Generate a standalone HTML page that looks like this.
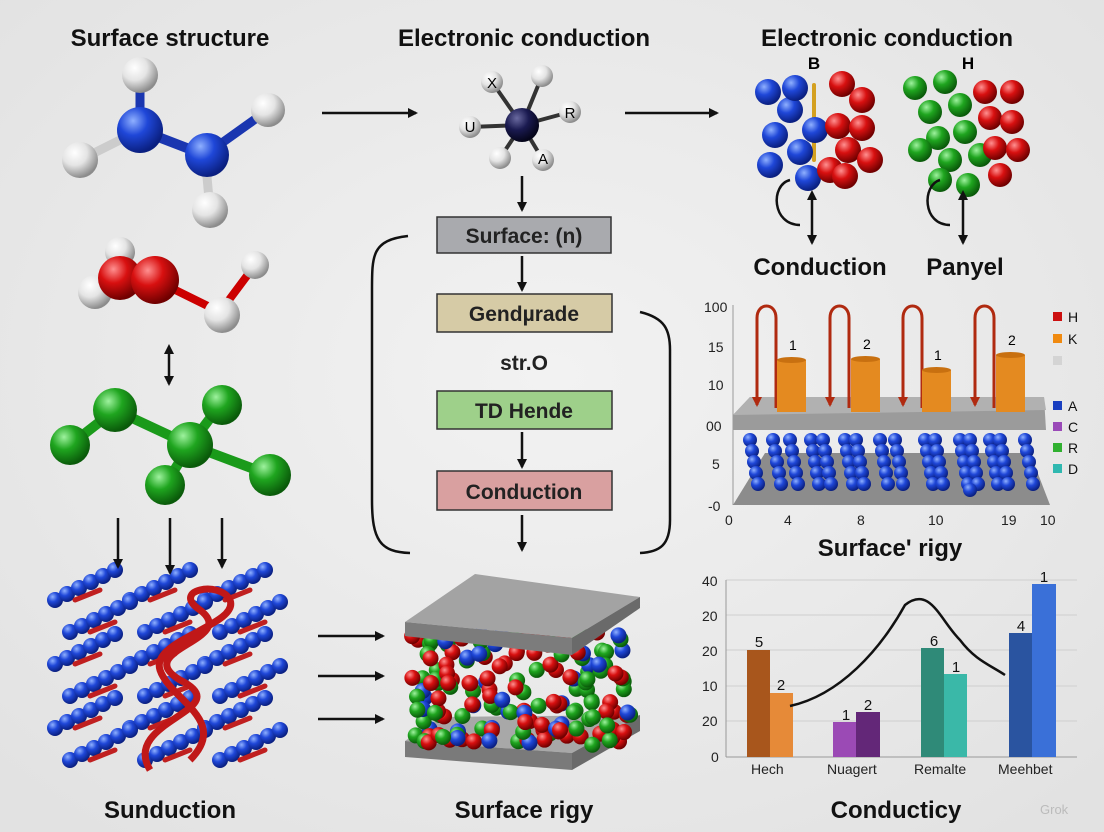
<!DOCTYPE html>
<html><head><meta charset="utf-8">
<style>
html,body{margin:0;padding:0;background:#ebebeb;}
svg{display:block;font-family:"Liberation Sans",sans-serif;}
.t{font-weight:bold;font-size:24px;text-anchor:middle;fill:#111}
.bx{font-size:21px;text-anchor:middle;fill:#222;font-weight:bold}
.ax{font-size:14px;fill:#222}
</style></head><body>
<svg id="s" width="1104" height="832" viewBox="0 0 1104 832" xmlns="http://www.w3.org/2000/svg">
<defs>
<radialGradient id="gb" cx="35%" cy="30%" r="70%"><stop offset="0" stop-color="#8fb0ff"/><stop offset=".45" stop-color="#1f47d8"/><stop offset="1" stop-color="#0a1f80"/></radialGradient>
<radialGradient id="gr" cx="35%" cy="30%" r="70%"><stop offset="0" stop-color="#ff9090"/><stop offset=".45" stop-color="#d81010"/><stop offset="1" stop-color="#700000"/></radialGradient>
<radialGradient id="gg" cx="35%" cy="30%" r="70%"><stop offset="0" stop-color="#9ef29e"/><stop offset=".45" stop-color="#1fa51f"/><stop offset="1" stop-color="#0a5a0a"/></radialGradient>
<radialGradient id="gw" cx="35%" cy="30%" r="70%"><stop offset="0" stop-color="#ffffff"/><stop offset=".5" stop-color="#e4e4e4"/><stop offset="1" stop-color="#8c8c8c"/></radialGradient>
<radialGradient id="gn" cx="35%" cy="30%" r="70%"><stop offset="0" stop-color="#6a6aa0"/><stop offset=".5" stop-color="#1a1a50"/><stop offset="1" stop-color="#05051a"/></radialGradient>
<radialGradient id="bg" cx="50%" cy="45%" r="70%"><stop offset="0" stop-color="#f2f2f2"/><stop offset="1" stop-color="#e2e2e2"/></radialGradient>
<marker id="ah" markerWidth="10" markerHeight="10" refX="8" refY="5" orient="auto" markerUnits="userSpaceOnUse"><path d="M0,0 L10,5 L0,10 z" fill="#111"/></marker>
<marker id="ahs" markerWidth="10" markerHeight="10" refX="2" refY="5" orient="auto-start-reverse" markerUnits="userSpaceOnUse"><path d="M0,0 L10,5 L0,10 z" fill="#111"/></marker>
<marker id="ahr" markerWidth="10" markerHeight="10" refX="8" refY="5" orient="auto" markerUnits="userSpaceOnUse"><path d="M0,0 L10,5 L0,10 z" fill="#b02a10"/></marker>
</defs>
<rect width="1104" height="832" fill="url(#bg)"/>
<g id="bonds" stroke-linecap="round"></g>
<g id="atoms"></g>

<text class="t" x="170" y="46">Surface structure</text>
<text class="t" x="524" y="46">Electronic conduction</text>
<text class="t" x="887" y="46">Electronic conduction</text>

<g stroke="#111" stroke-width="2.5" fill="none">
<line x1="322" y1="113" x2="416" y2="113" marker-end="url(#ah)"/>
<line x1="625" y1="113" x2="717" y2="113" marker-end="url(#ah)"/>
<line x1="522" y1="176" x2="522" y2="210" marker-end="url(#ah)"/>
<line x1="522" y1="256" x2="522" y2="290" marker-end="url(#ah)"/>
<line x1="522" y1="432" x2="522" y2="467" marker-end="url(#ah)"/>
<line x1="522" y1="515" x2="522" y2="550" marker-end="url(#ah)"/>
<line x1="169" y1="352" x2="169" y2="384" marker-end="url(#ah)" marker-start="url(#ahs)"/>
<line x1="118" y1="518" x2="118" y2="567" marker-end="url(#ah)"/>
<line x1="170" y1="518" x2="170" y2="573" marker-end="url(#ah)"/>
<line x1="222" y1="518" x2="222" y2="567" marker-end="url(#ah)"/>
<line x1="318" y1="636" x2="383" y2="636" marker-end="url(#ah)"/>
<line x1="318" y1="676" x2="383" y2="676" marker-end="url(#ah)"/>
<line x1="318" y1="719" x2="383" y2="719" marker-end="url(#ah)"/>
<line x1="812" y1="198" x2="812" y2="243" marker-end="url(#ah)" marker-start="url(#ahs)"/>
<line x1="963" y1="198" x2="963" y2="243" marker-end="url(#ah)" marker-start="url(#ahs)"/>
<path d="M790,180 C770,185 772,225 800,225"/>
<path d="M940,180 C922,185 922,225 950,225"/>
<path d="M408,236 C372,240 372,255 372,290 L372,500 C372,540 380,552 410,553"/>
<path d="M640,312 C665,318 670,330 670,350 L670,520 C670,545 660,552 640,553"/>
</g>

<rect x="437" y="217" width="174" height="36" fill="#a9aaae" stroke="#333" stroke-width="1.5"/>
<text class="bx" x="524" y="243" font-weight="normal">Surface: (n)</text>
<rect x="437" y="294" width="175" height="38" fill="#d6cba6" stroke="#333" stroke-width="1.5"/>
<text class="bx" x="524" y="321">Gendµrade</text>
<text class="bx" x="524" y="370">str.O</text>
<rect x="437" y="391" width="175" height="38" fill="#9ed08a" stroke="#333" stroke-width="1.5"/>
<text class="bx" x="524" y="418">TD Hende</text>
<rect x="437" y="471" width="175" height="39" fill="#d9a0a0" stroke="#333" stroke-width="1.5"/>
<text class="bx" x="524" y="499" font-weight="normal">Conduction</text>

<text class="t" x="820" y="275">Conduction</text>
<text class="t" x="965" y="275">Panyel</text>
<text x="814" y="69" font-size="17" font-weight="bold" text-anchor="middle">B</text>
<text x="968" y="69" font-size="17" font-weight="bold" text-anchor="middle">H</text>

<!-- chart 1 -->
<g class="ax">
<line x1="733" y1="305" x2="733" y2="505" stroke="#999"/>
<text x="704" y="312">100</text><text x="708" y="352">15</text><text x="708" y="390">10</text><text x="706" y="431">00</text><text x="712" y="469">5</text><text x="708" y="511">-0</text>
<text x="725" y="525">0</text><text x="784" y="525">4</text><text x="857" y="525">8</text><text x="928" y="525">10</text><text x="1001" y="525">19</text><text x="1040" y="525">10</text>
</g>
<polygon points="765,453 1030,453 1050,505 733,505" fill="#8c8c8c"/>
<polygon points="750,397 1044,397 1046,430 733,430 733,415" fill="#9b9b9b"/>
<polygon points="750,397 1044,397 1046,410 733,415" fill="#b1b1b1"/>
<g id="c1"></g>
<g font-size="14" fill="#111">
<rect x="1053" y="312" width="9" height="9" fill="#cc1010"/><text x="1068" y="322">H</text>
<rect x="1053" y="334" width="9" height="9" fill="#f08a10"/><text x="1068" y="344">K</text>
<rect x="1053" y="356" width="9" height="9" fill="#d4d4d4"/>
<rect x="1053" y="401" width="9" height="9" fill="#1a3fc0"/><text x="1068" y="411">A</text>
<rect x="1053" y="422" width="9" height="9" fill="#9a4ab8"/><text x="1068" y="432">C</text>
<rect x="1053" y="443" width="9" height="9" fill="#30b030"/><text x="1068" y="453">R</text>
<rect x="1053" y="464" width="9" height="9" fill="#30b8b0"/><text x="1068" y="474">D</text>
</g>
<text class="t" x="890" y="556">Surface' rigy</text>

<!-- chart 2 -->
<g stroke="#cfcfcf" stroke-width="1">
<line x1="726" y1="580" x2="1077" y2="580"/><line x1="726" y1="615" x2="1077" y2="615"/><line x1="726" y1="650" x2="1077" y2="650"/><line x1="726" y1="686" x2="1077" y2="686"/><line x1="726" y1="721" x2="1077" y2="721"/>
<line x1="726" y1="757" x2="1077" y2="757" stroke="#999"/>
<line x1="726" y1="580" x2="726" y2="757" stroke="#999"/>
</g>
<g class="ax" font-size="15">
<text x="702" y="586">40</text><text x="702" y="621">20</text><text x="702" y="656">20</text><text x="702" y="691">10</text><text x="702" y="726">20</text><text x="711" y="762">0</text>
<text x="751" y="774">Hech</text><text x="827" y="774">Nuagert</text><text x="914" y="774">Remalte</text><text x="998" y="774">Meehbet</text>
</g>
<rect x="747" y="650" width="23" height="107" fill="#a8561c"/>
<rect x="770" y="693" width="23" height="64" fill="#e68a38"/>
<rect x="833" y="722" width="23" height="35" fill="#9b4ab5"/>
<rect x="856" y="712" width="24" height="45" fill="#632778"/>
<rect x="921" y="648" width="23" height="109" fill="#2f8a78"/>
<rect x="944" y="674" width="23" height="83" fill="#3ab8a8"/>
<rect x="1009" y="633" width="23" height="124" fill="#2a54a0"/>
<rect x="1032" y="584" width="24" height="173" fill="#3a70d8"/>
<g font-size="15" fill="#111" text-anchor="middle">
<text x="759" y="647">5</text><text x="781" y="690">2</text><text x="846" y="720">1</text><text x="868" y="710">2</text><text x="934" y="646">6</text><text x="956" y="672">1</text><text x="1021" y="631">4</text><text x="1044" y="582">1</text>
</g>
<path d="M790,706 C840,695 880,650 905,605 C930,585 940,620 960,640 C975,660 990,665 1005,675" stroke="#111" stroke-width="2.5" fill="none"/>
<text class="t" x="896" y="818">Conducticy</text>

<!-- center bottom slabs -->
<polygon points="440,717 640,715 572,753 405,741" fill="#a8a8a8"/>
<polygon points="405,741 572,753 572,770 405,757" fill="#7a7a7a"/>
<polygon points="572,753 640,715 640,731 572,770" fill="#6a6a6a"/>
<g id="part"></g>
<polygon points="475,574 640,597 572,638 405,622" fill="#a3a3a3"/>
<polygon points="405,622 572,638 572,655 405,636" fill="#7c7c7c"/>
<polygon points="572,638 640,597 640,608 572,655" fill="#6a6a6a"/>

<text class="t" x="170" y="818">Sunduction</text>
<text class="t" x="524" y="818">Surface rigy</text>
<text x="1040" y="814" font-size="13" fill="#bbb">Grok</text>
</svg>
<script>
var NS="http://www.w3.org/2000/svg";
var atoms=document.getElementById('atoms'),bonds=document.getElementById('bonds');
function sp(x,y,r,c,par){var e=document.createElementNS(NS,'circle');e.setAttribute('cx',x);e.setAttribute('cy',y);e.setAttribute('r',r);e.setAttribute('fill','url(#g'+c+')');(par||atoms).appendChild(e);}
function bd(a,b,c,d,col,w,par){var e=document.createElementNS(NS,'line');e.setAttribute('x1',a);e.setAttribute('y1',b);e.setAttribute('x2',c);e.setAttribute('y2',d);e.setAttribute('stroke',col);e.setAttribute('stroke-width',w);e.setAttribute('stroke-linecap','round');(par||bonds).appendChild(e);}
function tx(x,y,s,sz){var e=document.createElementNS(NS,'text');e.setAttribute('x',x);e.setAttribute('y',y);e.setAttribute('font-size',sz||15);e.setAttribute('text-anchor','middle');e.textContent=s;atoms.appendChild(e);}
[[140,75],[80,160],[268,110],[210,210]].forEach(function(p,i){var b=i<2?[140,130]:[205,155];bd(b[0],b[1],p[0],p[1],i%2?'#ccc':'#1a36b0',9);});
bd(140,130,205,155,'#1a36b0',10);
sp(140,130,23,'b');sp(207,155,22,'b');sp(140,75,18,'w');sp(80,160,18,'w');sp(268,110,17,'w');sp(210,210,18,'w');
[[492,82],[542,76],[470,127],[570,112],[500,158],[543,160]].forEach(function(p){bd(522,125,p[0],p[1],'#333',4);sp(p[0],p[1],11,'w');});
sp(522,125,17,'n');tx(492,88,'X');tx(570,118,'R');tx(470,132,'U');tx(543,164,'A');
bd(120,275,95,292,'#ccc',8);bd(155,280,220,312,'#c00',8);bd(220,312,255,265,'#c00',8);bd(120,275,120,252,'#ccc',8);
sp(95,292,17,'w');sp(120,252,15,'w');sp(120,278,22,'r');sp(155,280,24,'r');sp(222,315,18,'w');sp(255,265,14,'w');
bd(115,410,190,445,'#1a9a1a',10);bd(70,445,115,410,'#1a9a1a',10);bd(190,445,220,405,'#1a9a1a',10);bd(190,445,270,475,'#1a9a1a',10);bd(190,445,165,485,'#1a9a1a',10);
sp(115,410,22,'g');sp(70,445,20,'g');sp(190,445,23,'g');sp(222,405,20,'g');sp(270,475,21,'g');sp(165,485,20,'g');
var bl=[[768,92],[790,110],[775,135],[800,152],[770,165],[808,178],[795,88],[815,130]];
bl.forEach(function(p){sp(p[0],p[1],13,'b');});
[[842,84],[862,100],[838,126],[862,128],[848,150],[830,170],[870,160],[845,176]].forEach(function(p){sp(p[0],p[1],13,'r');});
bd(814,85,814,160,'#d4a020',4);
[[915,88],[945,82],[930,112],[960,105],[938,138],[965,132],[920,150],[950,160],[980,155],[940,180],[968,185]].forEach(function(p){sp(p[0],p[1],12,'g');});
[[985,92],[1012,92],[990,118],[1012,122],[995,148],[1018,150],[1000,175]].forEach(function(p){sp(p[0],p[1],12,'r');});
var cg=document.createElementNS(NS,'g');atoms.appendChild(cg);
for(var r=0;r<6;r++){for(var k=0;k<3;k++){var x0=55+k*75+(r%2)*15,y0=600+r*32;
 for(var j=0;j<6;j++){sp(x0+j*12,y0-j*6,8,'b',cg);} bd(x0+20,y0,x0+45,y0-10,'#c02020',5,cg);}}
var rp=document.createElementNS(NS,'path');rp.setAttribute('d','M150,770 C120,720 240,710 180,680 C130,650 240,640 200,610 C170,590 220,580 230,600 C240,625 150,640 160,670 C170,700 230,720 190,760');rp.setAttribute('stroke','#c01818');rp.setAttribute('stroke-width','7');rp.setAttribute('fill','none');cg.appendChild(rp);
var pg=document.getElementById('part');var cols=['r','g','b','g','r'];var seed=3;
function rnd(){seed=(seed*9301+49297)%233280;return seed/233280;}
for(var i=0;i<170;i++){var x=412+rnd()*220,y=632+rnd()*115;sp(x,y,8,cols[Math.floor(rnd()*5)],pg);}
var c1=document.getElementById('c1');
[[757,777,360],[830,851,359],[903,922,370],[975,996,355]].forEach(function(q,i){
 var p=document.createElementNS(NS,'path');p.setAttribute('d','M'+(q[0]+19)+',408 L'+(q[0]+19)+',318 C'+(q[0]+19)+',302 '+q[0]+',302 '+q[0]+',318 L'+q[0]+',405');p.setAttribute('stroke','#b02a10');p.setAttribute('stroke-width','3');p.setAttribute('fill','none');p.setAttribute('marker-end','url(#ahr)');c1.appendChild(p);
 var r=document.createElementNS(NS,'rect');r.setAttribute('x',q[1]);r.setAttribute('y',q[2]);r.setAttribute('width',29);r.setAttribute('height',412-q[2]);r.setAttribute('fill','#e48a20');c1.appendChild(r);
 var e=document.createElementNS(NS,'ellipse');e.setAttribute('cx',q[1]+14.5);e.setAttribute('cy',q[2]);e.setAttribute('rx',14.5);e.setAttribute('ry',3);e.setAttribute('fill','#c87010');c1.appendChild(e);
 var t=document.createElementNS(NS,'text');t.setAttribute('x',q[1]+12);t.setAttribute('y',q[2]-10);t.setAttribute('font-size','14');t.textContent=['1','2','1','2'][i];c1.appendChild(t);
});
var xs=[750,768,790,806,823,840,856,875,895,920,935,955,970,985,1000,1020];
xs.forEach(function(x,i){for(var j=0;j<5;j++){sp(x+j*2+(i%2)*5,440+j*11,7,'b',c1);}});
sp(970,490,7,'b',c1);
</script>
</body></html>
